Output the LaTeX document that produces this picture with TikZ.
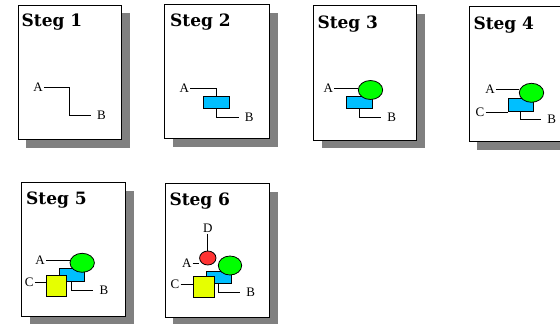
\documentclass[tikz,border=0pt]{standalone}
\usepackage{fontspec}
\setmainfont{Liberation Serif}
\newfontfamily\titlefont{DejaVu Serif}
\usetikzlibrary{shapes.geometric}
\definecolor{shadowgray}{HTML}{808080}
\definecolor{boxblue}{HTML}{00BFFF}
\definecolor{blobgreen}{HTML}{00FF00}
\definecolor{sqyellow}{HTML}{E6FF00}
\definecolor{blobred}{HTML}{FF3333}
\tikzset{
  panel/.style={draw=black, fill=white, line width=0.8pt},
  shade/.style={fill=shadowgray},
  ttl/.style={anchor=base west, inner sep=0pt, font=\titlefont\bfseries\fontsize{17}{20}\selectfont},
  lab/.style={inner sep=1pt, font=\fontsize{13}{15}\selectfont},
  wire/.style={line width=0.8pt},
  bluebox/.style={rectangle, draw, line width=0.8pt, fill=boxblue, inner sep=0pt},
  greenblob/.style={ellipse, draw, line width=0.8pt, fill=blobgreen, inner sep=0pt, minimum width=24.4pt, minimum height=19pt},
  redblob/.style={ellipse, draw, line width=0.8pt, fill=blobred, inner sep=0pt, minimum width=16.4pt, minimum height=14pt},
  yelbox/.style={rectangle, draw, line width=0.8pt, fill=sqyellow, inner sep=0pt, minimum width=21pt, minimum height=21pt},
}
\begin{document}
\begin{tikzpicture}[x=1pt,y=-1pt]
\useasboundingbox (0,0) rectangle (560,324);

% ---------- Steg 1 ----------
\fill[shade] (26,13) rectangle (130,148);
\draw[panel] (18,5) rectangle (121,139);
\node[ttl] (T1) at (21.5,26.5) {Steg 1};
\node[lab] (A1) at (38,87) {A};
\node[lab] (B1) at (101.5,115) {B};
\draw[wire] (A1.east) -| (69,115) -- ([xshift=-5pt]B1.west);

% ---------- Steg 2 ----------
\fill[shade] (172.5,12.5) rectangle (277.7,147);
\draw[panel] (164.3,4) rectangle (269,138);
\node[ttl] (T2) at (170,27) {Steg 2};
\node[lab] (A2) at (184.3,88) {A};
\node[lab] (B2) at (249.3,117) {B};
\node[bluebox, minimum width=26pt, minimum height=11.6pt] (R2) at (216.5,102.5) {};
\draw[wire] (A2.east) -| (R2.north);
\draw[wire] (R2.south) |- ([xshift=-5pt]B2.west);

% ---------- Steg 3 ----------
\fill[shade] (321.5,13.5) rectangle (425.3,148.3);
\draw[panel] (313.3,5) rectangle (416,140);
\node[ttl] (T3) at (317.3,28.3) {Steg 3};
\node[lab] (A3) at (328.3,88.5) {A};
\node[lab] (B3) at (391.7,117) {B};
\node[bluebox, minimum width=25.6pt, minimum height=12.3pt] (R3) at (359.5,102.2) {};
\node[greenblob] (E3) at (370.5,90) {};
\draw[wire] (A3.east) -- (A3.east -| E3.west);
\draw[wire] (R3.south) |- ([xshift=-5pt]B3.west);

% ---------- Steg 4 ----------
\fill[shade] (477,15) rectangle (584,150);
\draw[panel] (469,6.7) rectangle (575,141.7);
\node[ttl] (T4) at (473.3,29.3) {Steg 4};
\node[lab] (A4) at (490,89.5) {A};
\node[lab] (C4) at (480,112.5) {C};
\node[lab] (B4) at (551.7,119) {B};
\node[bluebox, minimum width=25pt, minimum height=13.4pt] (R4) at (520.8,105) {};
\node[greenblob] (E4) at (531.5,92.8) {};
\draw[wire] (A4.east) -- (A4.east -| E4.west);
\draw[wire] (C4.east |- R4.south) -- (R4.south west);
\draw[wire] (R4.south) |- ([xshift=-5pt]B4.west);

% ---------- Steg 5 ----------
\fill[shade] (30,190.5) rectangle (134,324.5);
\draw[panel] (21.7,182.3) rectangle (125.7,316.7);
\node[ttl] (T5) at (26,204.3) {Steg 5};
\node[lab] (A5) at (40,260) {A};
\node[lab] (C5) at (29.3,282) {C};
\node[lab] (B5) at (104,290) {B};
\node[bluebox, minimum width=25.3pt, minimum height=13.4pt] (R5) at (71.7,275) {};
\node[greenblob] (E5) at (82.2,262.8) {};
\node[yelbox, minimum width=20.7pt, minimum height=20.7pt] (S5) at (56.3,285.7) {};
\draw[wire] (A5.east) -- (A5.east -| E5.west);
\draw[wire] (C5.east) -- (C5.east -| S5.west);
\draw[wire] (R5.south) |- ([xshift=-5pt]B5.west);

% ---------- Steg 6 ----------
\fill[shade] (173.3,191.7) rectangle (277.7,324.5);
\draw[panel] (165,183.3) rectangle (269.3,317.3);
\node[ttl] (T6) at (169.3,205.7) {Steg 6};
\node[lab] (D6) at (207.8,228.3) {D};
\node[lab] (A6) at (186.7,263.5) {A};
\node[lab] (C6) at (175,284.3) {C};
\node[lab] (B6) at (250.7,292.5) {B};
\node[bluebox, minimum width=25.7pt, minimum height=12.3pt] (R6) at (218.8,277.2) {};
\node[greenblob, minimum width=23.4pt] (E6) at (230,265.5) {};
\node[redblob] (F6) at (207.8,258) {};
\node[yelbox] (S6) at (203.5,287) {};
\draw[wire] (D6.south) -- (F6.north);
\draw[wire] (A6.east) -- (A6.east -| F6.west);
\draw[wire] (C6.east) -- (C6.east -| S6.west);
\draw[wire] (R6.south) |- ([xshift=-5pt]B6.west);
\end{tikzpicture}
\end{document}
